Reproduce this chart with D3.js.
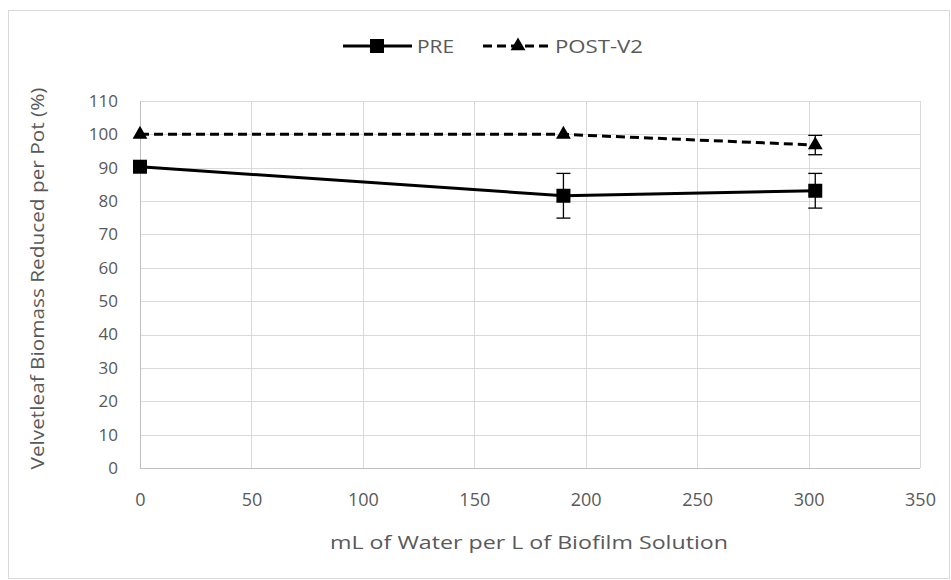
<!DOCTYPE html>
<html>
<head>
<meta charset="utf-8">
<script src="https://cdn.jsdelivr.net/npm/d3@7"></script>
<style>
  body { margin: 0; background: #fff; }
  svg { display: block; font-family: "Open Sans", "Liberation Sans", sans-serif; }
</style>
</head>
<body>
<svg id="chart" width="951" height="580"></svg>
<script>
// Velvetleaf biomass reduction by water dilution of biofilm solution
const doses = [0, 190, 303];
const preValues = [90.3, 81.6, 83.1];
const preErrors = [1.0, 6.7, 5.2];
const postValues = [100, 100, 96.8];
const postErrors = [0, 0, 2.9];
const seriesNames = ["PRE", "POST-V2"];
const xTicks = [0, 50, 100, 150, 200, 250, 300, 350];
const yTicks = [0, 10, 20, 30, 40, 50, 60, 70, 80, 90, 100, 110];

const svg = d3.select("#chart");
const W = 951, H = 580;
const m = { left: 140, right: 31, top: 101, bottom: 112 };
const textColor = "#595959";

// outer chart frame
svg.append("rect")
  .attr("x", 8.5).attr("y", 10.5)
  .attr("width", W - 10).attr("height", H - 12)
  .attr("fill", "#fff").attr("stroke", "#d9d9d9");

const x = d3.scaleLinear().domain([0, 350]).range([m.left, W - m.right]);
const y = d3.scaleLinear().domain([0, 110]).range([H - m.bottom, m.top]);
const px = v => Math.round(v) + 0.5;

// gridlines
const grid = svg.append("g").attr("stroke", "#d9d9d9").attr("stroke-width", 1);
grid.selectAll(".hg").data(yTicks).join("line")
  .attr("x1", x(0)).attr("x2", x(350))
  .attr("y1", d => px(y(d))).attr("y2", d => px(y(d)));
grid.selectAll(".vg").data(xTicks).join("line")
  .attr("y1", y(0)).attr("y2", y(110))
  .attr("x1", d => px(x(d))).attr("x2", d => px(x(d)));

// axis lines
svg.append("line")
  .attr("x1", x(0)).attr("x2", x(350))
  .attr("y1", px(y(0))).attr("y2", px(y(0)))
  .attr("stroke", "#bfbfbf");
svg.append("line")
  .attr("x1", px(x(0))).attr("x2", px(x(0)))
  .attr("y1", y(0)).attr("y2", y(110))
  .attr("stroke", "#bfbfbf");

// tick labels
const xAxis = d3.axisBottom(x).tickValues(xTicks).tickSize(0).tickPadding(25);
const gx = svg.append("g").attr("transform", `translate(0,${y(0)})`).call(xAxis);
gx.select(".domain").remove();
gx.selectAll("text").attr("fill", textColor).attr("font-size", 18)
  .attr("font-family", "Open Sans, sans-serif");

const yAxis = d3.axisLeft(y).tickValues(yTicks).tickSize(0).tickPadding(22);
const gy = svg.append("g").attr("transform", `translate(${x(0)},0)`).call(yAxis);
gy.select(".domain").remove();
gy.selectAll("text").attr("fill", textColor).attr("font-size", 17)
  .attr("font-family", "Open Sans, sans-serif");

// axis titles
svg.append("text")
  .attr("x", 529).attr("y", 549)
  .attr("text-anchor", "middle").attr("fill", textColor).attr("font-size", 19)
  .attr("textLength", 398).attr("lengthAdjust", "spacingAndGlyphs")
  .text("mL of Water per L of Biofilm Solution");
svg.append("text")
  .attr("transform", `translate(44,${(y(0) + y(110)) / 2 - 6}) rotate(-90)`)
  .attr("text-anchor", "middle").attr("fill", textColor).attr("font-size", 18)
  .attr("textLength", 382).attr("lengthAdjust", "spacingAndGlyphs")
  .text("Velvetleaf Biomass Reduced per Pot (%)");

const line = d3.line().x(d => x(d[0])).y(d => y(d[1]));
const preData = doses.map((d, i) => [d, preValues[i], preErrors[i]]);
const postData = doses.map((d, i) => [d, postValues[i], postErrors[i]]);

// error bars
function errorBars(data) {
  const g = svg.append("g").attr("stroke", "#000").attr("stroke-width", 1.3);
  data.filter(d => d[2] > 0).forEach(d => {
    const cx = x(d[0]);
    g.append("line").attr("x1", cx).attr("x2", cx)
      .attr("y1", y(d[1] - d[2])).attr("y2", y(d[1] + d[2]));
    [d[1] - d[2], d[1] + d[2]].forEach(v => {
      g.append("line").attr("x1", cx - 7).attr("x2", cx + 7)
        .attr("y1", y(v)).attr("y2", y(v));
    });
  });
}
errorBars(preData);
errorBars(postData);

// series lines
svg.append("path").datum(postData).attr("d", line)
  .attr("fill", "none").attr("stroke", "#000").attr("stroke-width", 3)
  .attr("stroke-dasharray", "9,5");
svg.append("path").datum(preData).attr("d", line)
  .attr("fill", "none").attr("stroke", "#000").attr("stroke-width", 3);

// markers
const sq = 14;
svg.selectAll(".pre-m").data(preData).join("rect")
  .attr("x", d => x(d[0]) - sq / 2).attr("y", d => y(d[1]) - sq / 2)
  .attr("width", sq).attr("height", sq).attr("fill", "#000");
const tri = d3.symbol().type(d3.symbolTriangle).size(95);
svg.selectAll(".post-m").data(postData).join("path")
  .attr("d", tri)
  .attr("transform", d => `translate(${x(d[0])},${y(d[1])})`)
  .attr("fill", "#000");

// legend
const lg = svg.append("g").attr("font-size", 19).attr("fill", textColor);
const ly = 46;
lg.append("line").attr("x1", 343).attr("x2", 412).attr("y1", ly).attr("y2", ly)
  .attr("stroke", "#000").attr("stroke-width", 3);
lg.append("rect").attr("x", 377 - sq / 2).attr("y", ly - sq / 2)
  .attr("width", sq).attr("height", sq).attr("fill", "#000");
lg.append("text").attr("x", 417).attr("y", ly + 7).attr("fill", textColor)
  .attr("textLength", 37).attr("lengthAdjust", "spacingAndGlyphs")
  .text(seriesNames[0]);

lg.append("line").attr("x1", 483).attr("x2", 551).attr("y1", ly).attr("y2", ly)
  .attr("stroke", "#000").attr("stroke-width", 3).attr("stroke-dasharray", "9,5");
lg.append("path").attr("d", tri).attr("transform", `translate(518,${ly})`).attr("fill", "#000");
lg.append("text").attr("x", 555).attr("y", ly + 7).attr("fill", textColor)
  .attr("textLength", 88).attr("lengthAdjust", "spacingAndGlyphs")
  .text(seriesNames[1]);
</script>
</body>
</html>
